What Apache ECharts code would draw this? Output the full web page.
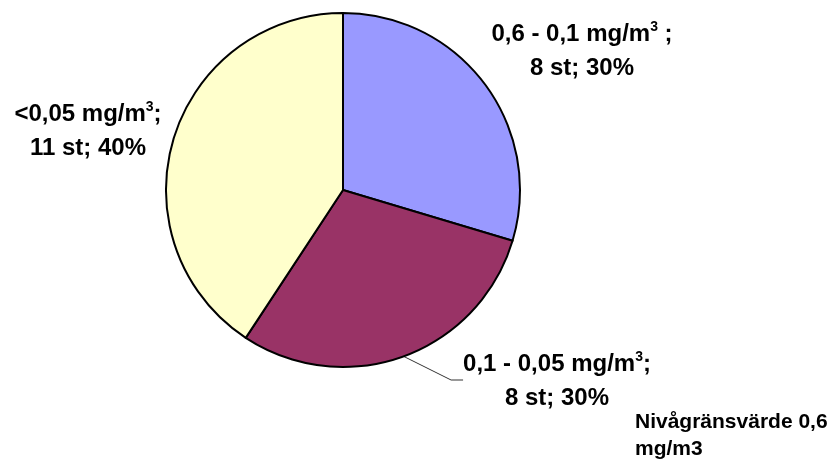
<!DOCTYPE html>
<html>
<head>
<meta charset="utf-8">
<script src="https://cdn.jsdelivr.net/npm/echarts@6/dist/echarts.min.js"></script>
<style>
html,body{margin:0;padding:0;background:#fff;}
#chart{width:834px;height:465px;}
</style>
</head>
<body>
<div id="chart"></div>
<script>
// ---- data ----
var ranges = ['0,6 - 0,1 mg/m', '0,1 - 0,05 mg/m', '<0,05 mg/m'];
var unitTail = [' ;', ';', ';'];
var counts = [8, 8, 11];
var percents = ['30%', '30%', '40%'];
var colors = ['#9999FF', '#993366', '#FFFFCC'];
var noteText = 'Nivågränsvärde 0,6\nmg/m3';

// label placement (centre of each label block)
var labelPos = [[582, 51], [557, 381], [88, 131]];

var chart = echarts.init(document.getElementById('chart'));
var data = counts.map(function (c, i) {
  return {
    value: c,
    name: ranges[i],
    itemStyle: { color: colors[i] },
    labelLine: { show: i === 1 }
  };
});

chart.setOption({
  animation: false,
  title: {
    text: noteText,
    left: 635,
    top: 409,
    padding: 0,
    textStyle: {
      fontFamily: 'Liberation Sans, Arial, sans-serif',
      fontSize: 21,
      fontWeight: 'bold',
      color: '#000',
      lineHeight: 27
    }
  },
  series: [{
    type: 'pie',
    center: [343, 190],
    radius: 177,
    startAngle: 90,
    clockwise: true,
    avoidLabelOverlap: false,
    data: data,
    itemStyle: { borderColor: '#000', borderWidth: 2 },
    emphasis: { disabled: true },
    label: {
      show: true,
      position: 'outside',
      align: 'center',
      padding: [0, 4],
      formatter: function (p) {
        var i = p.dataIndex;
        return '{t|' + ranges[i] + '}{sup|3}{t|' + unitTail[i] + '}\n{t|' + counts[i] + ' st; ' + percents[i] + '}';
      },
      rich: {
        t: {
          fontFamily: 'Liberation Sans, Arial, sans-serif',
          fontSize: 24,
          fontWeight: 'bold',
          color: '#000',
          lineHeight: 34,
          align: 'center'
        },
        sup: {
          fontFamily: 'Liberation Sans, Arial, sans-serif',
          fontSize: 14,
          fontWeight: 'bold',
          color: '#000',
          lineHeight: 14,
          padding: [0, 0, 14, 0]
        }
      }
    },
    labelLine: {
      show: true,
      length: 10,
      length2: 12,
      lineStyle: { color: '#333', width: 1 }
    },
    labelLayout: function (params) {
      var pos = labelPos[params.dataIndex];
      return { x: pos[0], y: pos[1], align: 'center', verticalAlign: 'middle' };
    }
  }]
});
</script>
</body>
</html>
